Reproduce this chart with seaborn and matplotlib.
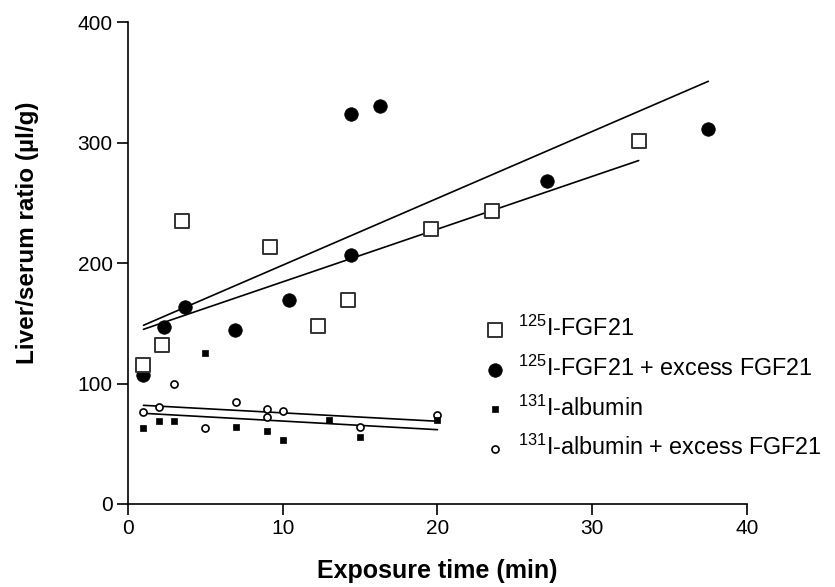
import matplotlib
matplotlib.use("Agg")
import matplotlib.pyplot as plt
import seaborn as sns

# 125I-FGF21 (open squares)
fgf_x = [1, 2.2, 3.5, 9.2, 12.3, 14.2, 19.6, 23.5, 33]
fgf_y = [115, 132, 235, 213, 148, 169, 228, 243, 301]

# 125I-FGF21 + excess FGF21 (filled circles)
fgf_ex_x = [1, 2.3, 3.7, 6.9, 10.4, 14.4, 14.4, 16.3, 27.1, 37.5]
fgf_ex_y = [107, 147, 163.5, 144.5, 169, 324, 207, 330, 268, 311]

# 131I-albumin (small filled squares)
alb_x = [1, 2, 3, 5, 7, 9, 10, 13, 15, 20]
alb_y = [63, 69, 69, 125, 64, 60.5, 53, 70, 55.5, 70]

# 131I-albumin + excess FGF21 (small open circles)
alb_ex_x = [1, 2, 3, 5, 7, 9, 9, 10, 15, 20]
alb_ex_y = [76, 80.5, 99.5, 63, 84.5, 79, 72, 77, 64, 74]

labels = [
    "$^{125}$I-FGF21",
    "$^{125}$I-FGF21 + excess FGF21",
    "$^{131}$I-albumin",
    "$^{131}$I-albumin + excess FGF21",
]

sns.set_style("ticks")
plt.rcParams["font.family"] = ["Liberation Sans", "DejaVu Sans"]
plt.rcParams["mathtext.default"] = "regular"
for key in ["text.color", "axes.labelcolor", "xtick.color", "ytick.color"]:
    plt.rcParams[key] = "black"

fig, ax = plt.subplots(figsize=(8.35, 5.87), dpi=100)
fig.subplots_adjust(left=0.1533, right=0.8946, bottom=0.1414, top=0.9625)

# linear fits
line_kws = dict(color="black", lw=1.2, zorder=1)
for xs, ys in [(fgf_x, fgf_y), (fgf_ex_x, fgf_ex_y), (alb_x, alb_y), (alb_ex_x, alb_ex_y)]:
    sns.regplot(x=xs, y=ys, scatter=False, ci=None, truncate=True,
                line_kws=line_kws, ax=ax)

# points
sns.scatterplot(x=alb_ex_x, y=alb_ex_y, marker="o", s=26, color="white",
                edgecolor="black", linewidth=1.2, label=labels[3], zorder=3, ax=ax)
sns.scatterplot(x=alb_x, y=alb_y, marker="s", s=20, color="black",
                edgecolor="black", linewidth=0.5, label=labels[2], zorder=3, ax=ax)
sns.scatterplot(x=fgf_ex_x, y=fgf_ex_y, marker="o", s=95, color="black",
                edgecolor="black", linewidth=0.5, label=labels[1], zorder=4, ax=ax)
sns.scatterplot(x=fgf_x, y=fgf_y, marker="s", s=95, color="white",
                edgecolor="#333333", linewidth=1.4, label=labels[0], zorder=5, ax=ax)

handles, labs = ax.get_legend_handles_labels()
order = [labs.index(l) for l in labels]
ax.legend([handles[i] for i in order], labels, loc="upper left",
          bbox_to_anchor=(0.57, 0.39), frameon=False, fontsize=16.8,
          handlelength=1.2, handletextpad=0.4, labelspacing=0.62,
          borderaxespad=0, borderpad=0)

ax.set_xlim(0, 40)
ax.set_ylim(0, 400)
ax.set_xticks([0, 10, 20, 30, 40])
ax.set_yticks([0, 100, 200, 300, 400])
ax.tick_params(axis="both", labelsize=15, length=8, width=1.2, pad=3,
               color="black")
for side in ["left", "bottom"]:
    ax.spines[side].set_linewidth(1.2)
    ax.spines[side].set_color("black")
sns.despine(ax=ax)

ax.set_xlabel("Exposure time (min)", fontsize=18, fontweight="bold", labelpad=15)
ax.set_ylabel("Liver/serum ratio (\u00b5l/g)", fontsize=17.5, fontweight="bold")
ax.yaxis.set_label_coords(-0.143, 0.562)

fig.savefig("out.png", dpi=100)
